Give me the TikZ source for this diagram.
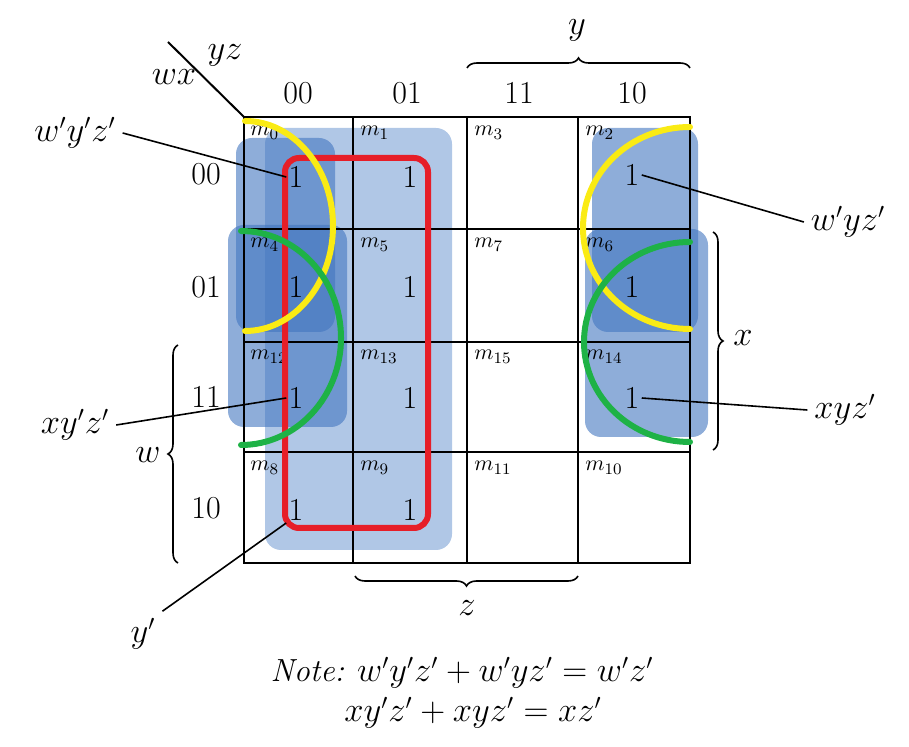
\documentclass[tikz,border=0pt]{standalone}
\usetikzlibrary{positioning,decorations.pathreplacing}
\definecolor{shadelight}{RGB}{150,180,222}
\definecolor{shadedark}{RGB}{66,118,192}
\definecolor{ringred}{RGB}{230,30,40}
\definecolor{ringyellow}{RGB}{250,235,20}
\definecolor{ringgreen}{RGB}{30,178,70}
\tikzset{
  bitlabel/.style={font=\fontsize{16}{18}\selectfont},
  minterm/.style={anchor=north west,inner sep=0pt,font=\fontsize{11}{13}\selectfont},
  cellone/.style={font=\fontsize{16}{18}\selectfont,inner sep=1pt},
  term/.style={font=\fontsize{16}{18}\selectfont},
  bracemark/.style={decorate,decoration={brace,amplitude=5pt},line width=0.8pt},
  ring/.style={line width=3pt,line cap=round},
  leader/.style={line width=0.8pt}
}
\begin{document}
\begin{tikzpicture}[x=0.5pt,y=-0.5pt]
\useasboundingbox (0,0) rectangle (909,747);

\begin{scope}[rounded corners=8pt]
    \fill[shadelight, opacity=0.75] (265,128) rectangle (452,550);
    \fill[shadedark, opacity=0.6] (236,138) rectangle (335,332);
    \fill[shadedark, opacity=0.6] (228,225) rectangle (347,427);
    \fill[shadedark, opacity=0.6] (592,128) rectangle (698,332);
    \fill[shadedark, opacity=0.6] (585,229) rectangle (708,437);
\end{scope}

\coordinate (corner) at (244,117);
\coordinate (slash) at (168,42);
\draw[line width=1.3pt] (corner) rectangle (690,563);
\foreach \c in {353,467,578} \draw[line width=1.3pt] (\c,117) -- (\c,563);
\foreach \r in {229,342,452} \draw[line width=1.3pt] (244,\r) -- (690,\r);
\draw[line width=1pt] (slash) -- (corner);

\node[term] (yz) at (225,55) {$yz$};
\node[term] (wx) at (174,77) {$wx$};

\begin{scope}[every node/.style={bitlabel}]
    \node (c00) at (298,93) {00};
    \node (c01) at (407,93) {01};
    \node (c11) at (519,93) {11};
    \node (c10) at (632,93) {10};
    \node (r00) at (206,174) {00};
    \node (r01) at (206,287) {01};
    \node (r11) at (206,397) {11};
    \node (r10) at (206,508) {10};
\end{scope}

\begin{scope}[every node/.style={minterm}]
    \node (m0) at (250,126) {$m_0$};
    \node (m1) at (360,126) {$m_1$};
    \node (m3) at (474,126) {$m_3$};
    \node (m2) at (585,126) {$m_2$};
    \node (m4) at (250,238) {$m_4$};
    \node (m5) at (360,238) {$m_5$};
    \node (m7) at (474,238) {$m_7$};
    \node (m6) at (585,238) {$m_6$};
    \node (m12) at (250,350) {$m_{12}$};
    \node (m13) at (360,350) {$m_{13}$};
    \node (m15) at (474,350) {$m_{15}$};
    \node (m14) at (585,350) {$m_{14}$};
    \node (m8) at (250,461) {$m_8$};
    \node (m9) at (360,461) {$m_9$};
    \node (m11) at (474,461) {$m_{11}$};
    \node (m10) at (585,461) {$m_{10}$};
\end{scope}

\begin{scope}[every node/.style={cellone}]
    \node (one0) at (296,177) {1};
    \node (one1) at (410,177) {1};
    \node (one2) at (632,175) {1};
    \node (one4) at (296,287) {1};
    \node (one5) at (410,287) {1};
    \node (one6) at (632,287) {1};
    \node (one12) at (296,398) {1};
    \node (one13) at (410,398) {1};
    \node (one14) at (632,398) {1};
    \node (one8) at (296,510) {1};
    \node (one9) at (410,510) {1};
\end{scope}

\draw[ring, ringred, rounded corners=7pt] (285,158) rectangle (428,528);
\draw[ring, ringyellow] (245,121) arc[start angle=-90, end angle=90, x radius=88, y radius=105];
\draw[ring, ringyellow] (690,127) arc[start angle=-90, end angle=-270, x radius=107, y radius=101];
\draw[ring, ringgreen] (241,231) arc[start angle=-90, end angle=90, x radius=100, y radius=107];
\draw[ring, ringgreen] (690,242) arc[start angle=-90, end angle=-270, x radius=106, y radius=100];

\node[term] (tA) at (75,133) {$w'y'z'$};
\node[term] (tB) at (848,222) {$w'yz'$};
\node[term] (tC) at (75,425) {$xy'z'$};
\node[term] (tD) at (845,410) {$xyz'$};
\node[term] (tE) at (143,634) {$y'$};
\draw[leader] (tA.east) -- (one0.west);
\draw[leader] (one2.east) -- (tB.west);
\draw[leader] (tC.east) -- (one12.west);
\draw[leader] (one14.east) -- (tD.west);
\draw[leader] (tE.north east) -- (one8.south west);

\draw[bracemark] (467,68) -- (690,68);
\draw[bracemark] (713,232) -- (713,450);
\draw[bracemark] (178,563) -- (178,345);
\draw[bracemark] (578,576) -- (355,576);
\node[term] (ylab) at (577,30) {$y$};
\node[term] (xlab) at (743,338) {$x$};
\node[term] (wlab) at (148,455) {$w$};
\node[term] (zlab) at (467,608) {$z$};

\node[term] (note1) at (462,673) {\textit{Note:} $w'y'z' + w'yz' = w'z'$};
\node[term] (note2) at (473,713) {$xy'z' + xyz' = xz'$};
\end{tikzpicture}
\end{document}
